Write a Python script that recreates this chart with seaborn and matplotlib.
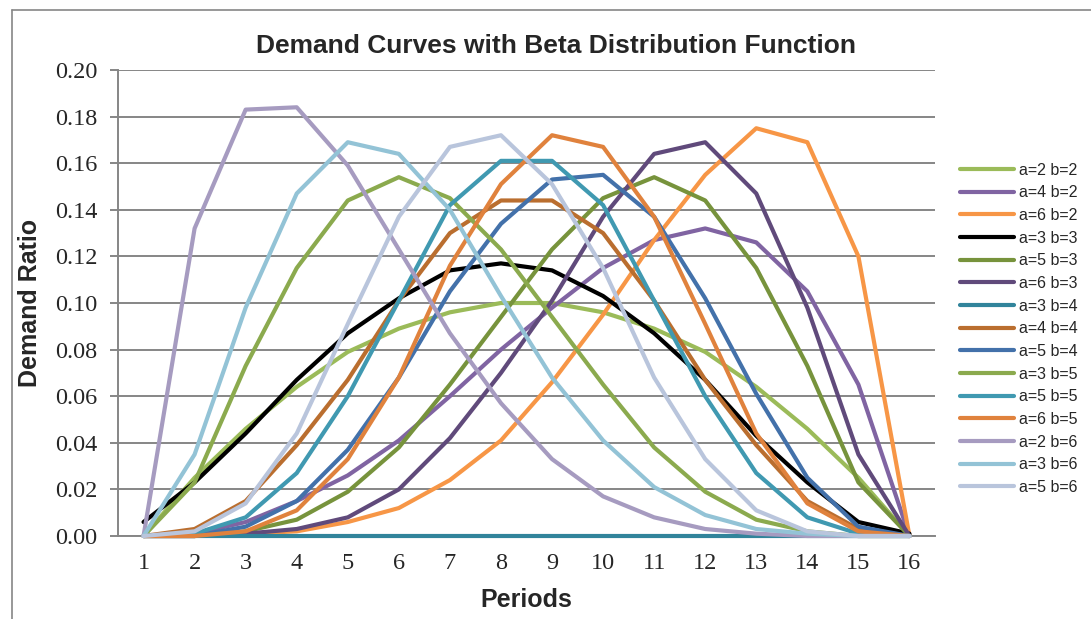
import numpy as np
import pandas as pd
import matplotlib
matplotlib.use('Agg')
import matplotlib.pyplot as plt
import seaborn as sns
from matplotlib.lines import Line2D

periods = list(range(1, 17))

# demand ratio per period
a2_b2 = [0, 0.025, 0.046, 0.064, 0.079, 0.089, 0.096, 0.100, 0.100, 0.096, 0.089, 0.079, 0.064, 0.046, 0.025, 0]
a4_b2 = [0, 0.001, 0.006, 0.015, 0.026, 0.041, 0.060, 0.080, 0.098, 0.115, 0.127, 0.132, 0.126, 0.105, 0.065, 0]
a6_b2 = [0, 0.000, 0.001, 0.002, 0.006, 0.012, 0.024, 0.041, 0.066, 0.095, 0.127, 0.155, 0.175, 0.169, 0.120, 0]
a3_b3 = [0.006, 0.023, 0.044, 0.067, 0.087, 0.102, 0.114, 0.117, 0.114, 0.103, 0.087, 0.067, 0.043, 0.023, 0.006, 0.001]
a5_b3 = [0, 0.000, 0.002, 0.007, 0.019, 0.038, 0.065, 0.094, 0.123, 0.145, 0.154, 0.144, 0.115, 0.073, 0.023, 0]
a6_b3 = [0, 0.000, 0.001, 0.003, 0.008, 0.020, 0.042, 0.070, 0.101, 0.137, 0.164, 0.169, 0.147, 0.098, 0.035, 0]
a3_b4 = [0, 0, 0, 0, 0, 0, 0, 0, 0, 0, 0, 0, 0, 0, 0, 0]
a4_b4 = [0, 0.003, 0.015, 0.039, 0.067, 0.101, 0.130, 0.144, 0.144, 0.130, 0.101, 0.067, 0.039, 0.015, 0.003, 0]
a5_b4 = [0, 0.000, 0.004, 0.015, 0.037, 0.068, 0.105, 0.134, 0.153, 0.155, 0.137, 0.102, 0.061, 0.025, 0.004, 0]
a3_b5 = [0, 0.023, 0.073, 0.115, 0.144, 0.154, 0.145, 0.123, 0.094, 0.065, 0.038, 0.019, 0.007, 0.002, 0.000, 0]
a5_b5 = [0, 0.001, 0.008, 0.027, 0.060, 0.101, 0.142, 0.161, 0.161, 0.142, 0.101, 0.060, 0.027, 0.008, 0.001, 0]
a6_b5 = [0, 0.000, 0.002, 0.011, 0.033, 0.068, 0.116, 0.151, 0.172, 0.167, 0.137, 0.091, 0.044, 0.014, 0.002, 0]
a2_b6 = [0, 0.132, 0.183, 0.184, 0.159, 0.123, 0.087, 0.057, 0.033, 0.017, 0.008, 0.003, 0.001, 0.000, 0.000, 0]
a3_b6 = [0, 0.035, 0.098, 0.147, 0.169, 0.164, 0.140, 0.103, 0.068, 0.041, 0.021, 0.009, 0.003, 0.001, 0.000, 0]
a5_b6 = [0, 0.002, 0.014, 0.044, 0.091, 0.137, 0.167, 0.172, 0.151, 0.115, 0.068, 0.033, 0.011, 0.002, 0.000, 0]

series_names = ['a=2 b=2', 'a=4 b=2', 'a=6 b=2', 'a=3 b=3', 'a=5 b=3', 'a=6 b=3', 'a=3 b=4',
                'a=4 b=4', 'a=5 b=4', 'a=3 b=5', 'a=5 b=5', 'a=6 b=5', 'a=2 b=6', 'a=3 b=6', 'a=5 b=6']
series_values = [a2_b2, a4_b2, a6_b2, a3_b3, a5_b3, a6_b3, a3_b4,
                 a4_b4, a5_b4, a3_b5, a5_b5, a6_b5, a2_b6, a3_b6, a5_b6]
series_colors = ['#9BBB59', '#8064A2', '#F79646', '#000000', '#77933C', '#604A7B', '#31849B',
                 '#BA6E2F', '#4371AA', '#8BAA4E', '#4099B1', '#E0823D', '#A69BC0', '#93C3D6', '#B9C5DC']

W, H = 1091, 619
GRID = '#868686'

sns.set_style('white')
plt.rcParams['font.family'] = ['Liberation Sans', 'DejaVu Sans']

rows = []
for name, vals in zip(series_names, series_values):
    for p, v in zip(periods, vals):
        rows.append({'Period': p, 'Demand': v, 'Series': name})
df = pd.DataFrame(rows)

fig, ax = plt.subplots(figsize=(W / 100, H / 100), dpi=100)
fig.subplots_adjust(left=118 / W, right=935 / W, top=1 - 70 / H, bottom=1 - 536 / H)

sns.lineplot(data=df, x='Period', y='Demand', hue='Series', hue_order=series_names,
             palette=dict(zip(series_names, series_colors)), linewidth=3.0,
             errorbar=None, ax=ax, zorder=3)
for line in ax.lines:
    line.set_clip_on(False)
    line.set_solid_joinstyle('round')

# axes
ax.set_xlim(0.5, 16.5)
ax.set_ylim(0, 0.2)
ax.set_xticks(periods, labels=[str(p) for p in periods],
              fontfamily='Liberation Serif', fontsize=17.5)
yt = [0, 0.02, 0.04, 0.06, 0.08, 0.10, 0.12, 0.14, 0.16, 0.18, 0.20]
ax.set_yticks(yt, labels=[f'{v:.2f}' for v in yt],
              fontfamily='Liberation Serif', fontsize=17.5)
ax.yaxis.grid(True, color=GRID, linewidth=1.4)
ax.xaxis.grid(False)
ax.set_axisbelow(True)
ax.tick_params(axis='y', left=True, length=6, width=1.4, color=GRID, pad=9)
ax.tick_params(axis='x', bottom=False, length=0, pad=12)
for side in ['top', 'right']:
    ax.spines[side].set_visible(False)
ax.spines['left'].set_color(GRID)
ax.spines['left'].set_linewidth(1.4)
ax.spines['bottom'].set_color(GRID)
ax.spines['bottom'].set_linewidth(1.4)

ax.set_xlabel('Periods', fontsize=18, fontweight='bold')
ax.set_ylabel('Demand Ratio', fontsize=18, fontweight='bold')
ax.xaxis.set_label_coords(0.5, -(600 - 536) / 466)
ax.xaxis.label.set_va('center')
ax.yaxis.set_label_coords(-(118 - 30) / 817, 0.5)
ax.yaxis.label.set_va('center')

fig.text(556 / W, 1 - 46 / H, 'Demand Curves with Beta Distribution Function',
         ha='center', va='center', fontsize=19, fontweight='bold')

# legend
old = ax.get_legend()
handles = old.legend_handles
labels = [t.get_text() for t in old.get_texts()]
old.remove()
for h in handles:
    h.set_linewidth(3.0)
ax.legend(handles, labels, loc='center left', bbox_to_anchor=(960 / W, 1 - 328.7 / H),
          bbox_transform=fig.transFigure, frameon=False, fontsize=11.5,
          handlelength=3.4, handletextpad=0.3, labelspacing=0.48,
          borderpad=0, borderaxespad=0)

# chart area border (cut off at right and bottom)
fig.add_artist(Line2D([12 / W, 12 / W], [0, 1 - 10 / H], transform=fig.transFigure, color=GRID, lw=1.2))
fig.add_artist(Line2D([12 / W, 1], [1 - 10 / H, 1 - 10 / H], transform=fig.transFigure, color=GRID, lw=1.2))

fig.savefig('out.png', dpi=100)
